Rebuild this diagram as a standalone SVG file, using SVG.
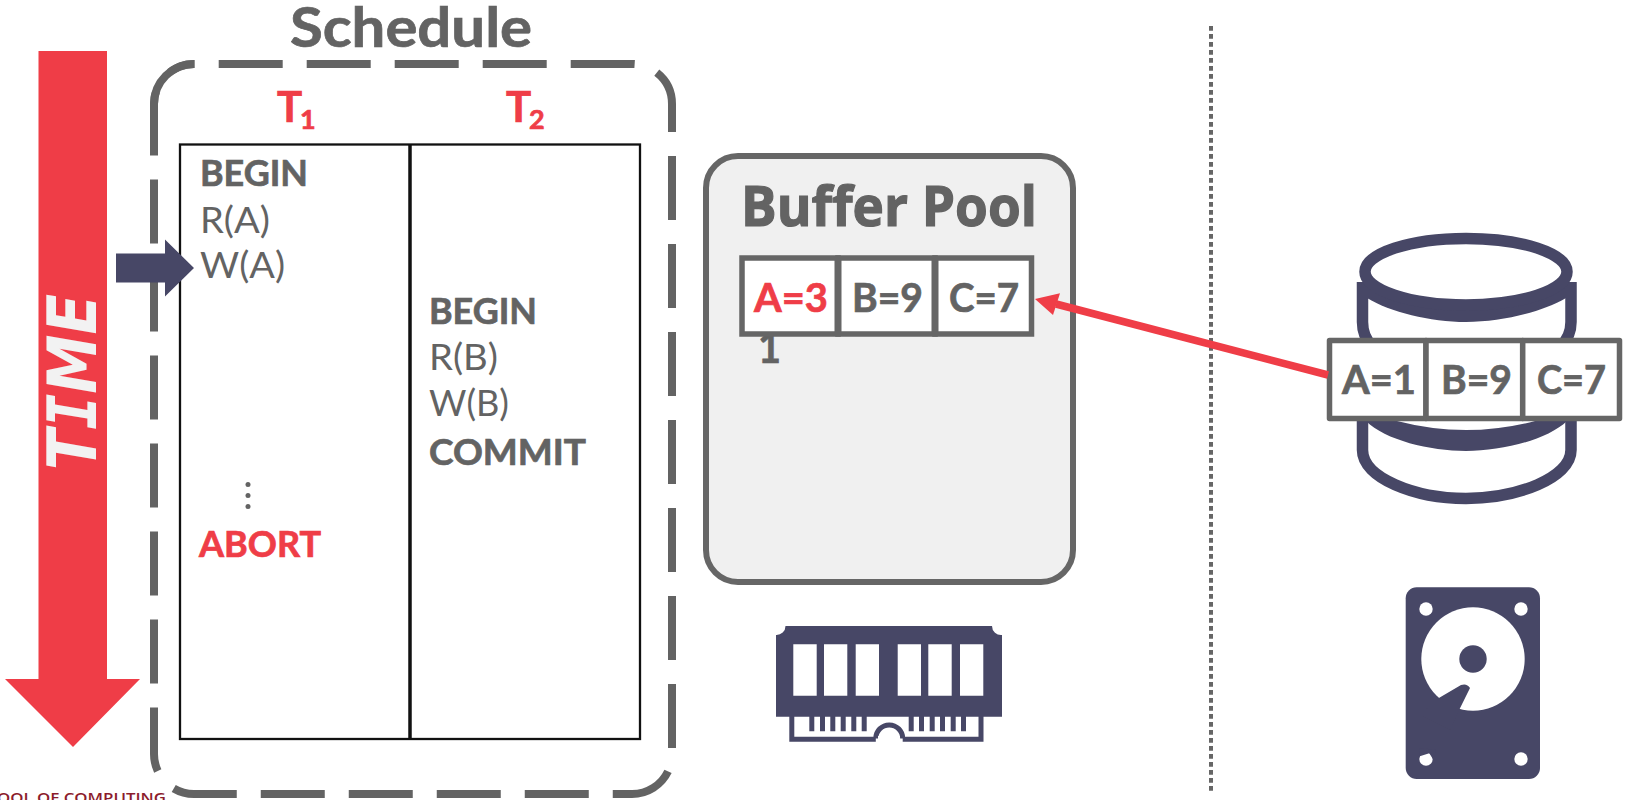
<svg xmlns="http://www.w3.org/2000/svg" width="1628" height="800" viewBox="0 0 1628 800">
<style>
.c{font-family:"Lato","Liberation Sans",sans-serif;fill:#636363}
.b{font-weight:700;stroke:#636363;stroke-width:.7}
.r{fill:#EF3D47}
text.r{stroke:#EF3D47}
.cell{fill:#fff;stroke:#666;stroke-width:5.5}
.ink{fill:#474766}
</style>
<rect width="1628" height="800" fill="#fff"/>
<g id="time-arrow">
<path class="r" d="M38.500 51H107V679H140L73 747L5 679H38.500Z"/>
<text transform="translate(96 470) rotate(-90)" font-family="DejaVu Sans,sans-serif" font-weight="700" font-style="italic" font-size="68" fill="#f2f2f2" textLength="176" lengthAdjust="spacingAndGlyphs">T<tspan font-family="DejaVu Sans Mono,monospace">I</tspan>ME</text>
</g>
<g id="schedule">
<path d="M194 64H632A40 40 0 0 1 672 104V754A40 40 0 0 1 632 794H194A40 40 0 0 1 154 754V104A40 40 0 0 1 194 64Z" fill="none" stroke="#636363" stroke-width="8" stroke-dasharray="64 24" stroke-dashoffset="63.300"/>
<path d="M154 154.500V104A40 40 0 0 1 194 64" fill="none" stroke="#636363" stroke-width="8"/>
<text class="c b" x="290" y="47" font-size="55" textLength="242" lengthAdjust="spacingAndGlyphs">Schedule</text>
<text class="c b r" x="277" y="122" font-size="42">T</text><text class="c b r" x="300" y="129" font-size="27">1</text>
<text class="c b r" x="506" y="122" font-size="42">T</text><text class="c b r" x="529" y="129" font-size="27">2</text>
<rect x="180" y="144.500" width="460" height="594.500" fill="#fff" stroke="#111" stroke-width="2.300"/>
<line x1="410" y1="144" x2="410" y2="739" stroke="#111" stroke-width="3.500"/>
<text class="c b" x="200" y="186" font-size="36" textLength="108" lengthAdjust="spacingAndGlyphs">BEGIN</text>
<text class="c" x="200" y="233" font-size="36" textLength="70" lengthAdjust="spacingAndGlyphs">R(A)</text>
<text class="c" x="200" y="278" font-size="36" textLength="85" lengthAdjust="spacingAndGlyphs">W(A)</text>
<circle cx="248" cy="484.500" r="2.500" fill="#636363"/><circle cx="248" cy="495.500" r="2.500" fill="#636363"/><circle cx="248" cy="506.500" r="2.500" fill="#636363"/>
<text class="c b r" x="199" y="557" font-size="36" textLength="122" lengthAdjust="spacingAndGlyphs">ABORT</text>
<text class="c b" x="429" y="324" font-size="36" textLength="108" lengthAdjust="spacingAndGlyphs">BEGIN</text>
<text class="c" x="429" y="370" font-size="36" textLength="69" lengthAdjust="spacingAndGlyphs">R(B)</text>
<text class="c" x="429" y="416" font-size="36" textLength="80" lengthAdjust="spacingAndGlyphs">W(B)</text>
<text class="c b" x="429" y="465" font-size="36" textLength="157" lengthAdjust="spacingAndGlyphs">COMMIT</text>
</g>
<g id="cursor">
<path class="ink" d="M116 253.500H165V239.500L194 268L165 296.500V282.500H116Z"/>
</g>
<g id="buffer-pool">
<rect x="706" y="156" width="367" height="426" rx="32" fill="#f0f0f0" stroke="#666" stroke-width="6"/>
<text x="741" y="226" font-family="Open Sans,sans-serif" font-weight="700" font-size="56" fill="#636363" stroke="#636363" stroke-width="1.200" textLength="296" lengthAdjust="spacingAndGlyphs">Buffer Pool</text>
<text class="c b" x="758" y="363" font-size="44" textLength="23" lengthAdjust="spacingAndGlyphs">1</text>
<rect class="cell" x="742" y="258" width="96" height="76"/>
<rect class="cell" x="838" y="258" width="97" height="76"/>
<rect class="cell" x="935" y="258" width="96.500" height="76"/>
<path d="M838 256V336M935 256V336" stroke="#666" stroke-width="7"/>
<text class="c b r" x="754" y="312" font-size="40" textLength="74" lengthAdjust="spacingAndGlyphs">A=3</text>
<text class="c b" x="852" y="312" font-size="40" textLength="71" lengthAdjust="spacingAndGlyphs">B=9</text>
<text class="c b" x="949" y="312" font-size="40" textLength="70" lengthAdjust="spacingAndGlyphs">C=7</text>
</g>
<g id="memory-icon">
<path class="ink" fill-rule="evenodd" d="M785.500 626H992A9 9 0 0 0 1002 635V716.700H776V635A9 9 0 0 0 785.500 626ZM793.300 644.300V695.700H816.700V644.300ZM824 644.300V695.700H847.300V644.300ZM855.700 644.300V695.700H879V644.300ZM897.700 644.300V695.700H921V644.300ZM928.300 644.300V695.700H951.700V644.300ZM960 644.300V695.700H983.300V644.300Z"/>
<path d="M791.800 716V739.200H981V716" fill="none" stroke="#474766" stroke-width="5"/>
<path class="ink" d="M809.300 716h5v15.300h-5zM820 716h5v15.300h-5zM830.300 716h5v15.300h-5zM840.700 716h5v15.300h-5zM851.300 716h5v15.300h-5zM861.700 716h5v15.300h-5zM908.700 716h5v15.300h-5zM919 716h5v15.300h-5zM929.700 716h5v15.300h-5zM940 716h5v15.300h-5zM950.700 716h5v15.300h-5zM961 716h5v15.300h-5z"/>
<path d="M875.800 742V738.400A13.400 13.400 0 0 1 902.700 738.400V742Z" fill="#fff"/>
<path d="M875.800 738.400A13.400 13.400 0 0 1 902.700 738.400" fill="none" stroke="#474766" stroke-width="5"/>
<rect x="878" y="736" width="22" height="7" fill="#fff"/>
</g>
<g id="database">
<path d="M1362.500 421V450C1362.500 478 1415 498.400 1466 498.400S1571 478 1571 450V421" fill="none" stroke="#474766" stroke-width="11.500"/>
<path class="ink" d="M1366 421C1385 440 1430 451 1466 451S1547 440 1567 421H1535Q1466 439 1397 421Z"/>
<path d="M1362.500 282V322C1362.500 332 1366 340 1372 346M1571 282V322C1571 332 1567 340 1561 346" fill="none" stroke="#474766" stroke-width="11.500"/>
<path class="ink" d="M1367 298C1390 312 1430 322 1466 322S1542 312 1566 298V270H1367Z"/>
<ellipse cx="1466" cy="271.700" rx="101" ry="33.300" fill="#fff" stroke="#474766" stroke-width="11.500"/>
</g>
<g id="disk-page">
<rect class="cell" x="1329.500" y="340.500" width="96.500" height="78" stroke-linejoin="round"/>
<rect class="cell" x="1426" y="340.500" width="96.700" height="78" stroke-linejoin="round"/>
<rect class="cell" x="1522.700" y="340.500" width="96.800" height="78" stroke-linejoin="round"/>
<text class="c b" x="1342" y="394" font-size="40" textLength="74" lengthAdjust="spacingAndGlyphs">A=1</text>
<text class="c b" x="1441" y="394" font-size="40" textLength="71" lengthAdjust="spacingAndGlyphs">B=9</text>
<text class="c b" x="1537" y="394" font-size="40" textLength="69" lengthAdjust="spacingAndGlyphs">C=7</text>
</g>
<g id="disk-icon">
<rect class="ink" x="1405.700" y="587.300" width="134.300" height="191.700" rx="11"/>
<g fill="#fff"><circle cx="1426" cy="609" r="6.700"/><circle cx="1521" cy="609" r="6.700"/><circle cx="1521" cy="759" r="6.700"/><circle cx="1426" cy="759" r="6.700"/><circle cx="1473" cy="659" r="51.700"/></g>
<circle class="ink" cx="1473" cy="659" r="13.700"/>
<path class="ink" d="M1439.300 697.700L1461 685Q1467 683 1470 688L1460 708.300L1450 730L1420 715ZM1419 756.500L1429.300 753.300L1433.500 760L1436 750L1420 748Z"/>
</g>
<g id="connectors">
<line x1="1211" y1="26" x2="1211" y2="791" stroke="#666" stroke-width="4" stroke-dasharray="4.700 3.300"/>
<line x1="1328" y1="375" x2="1056" y2="304" stroke="#EF3D47" stroke-width="7.500"/>
<path class="r" d="M1035 299L1060 293.300L1053 315Z"/>
</g>
<text id="footer" x="-3" y="803" font-family="Open Sans,sans-serif" font-weight="600" font-size="14" fill="#8c1c2c" textLength="169" lengthAdjust="spacingAndGlyphs">OOL OF COMPUTING</text>
</svg>
